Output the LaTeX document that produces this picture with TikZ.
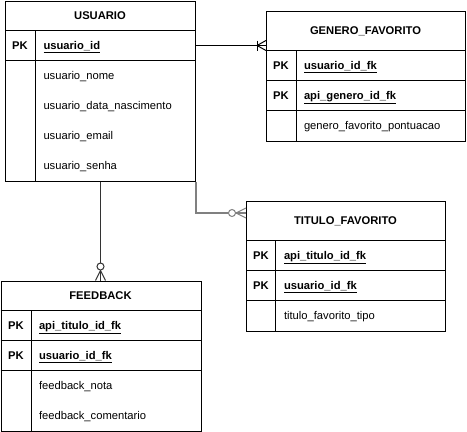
\documentclass[tikz,border=0pt]{standalone}
\usepackage{fontspec}
\setmainfont{Liberation Sans}
\usetikzlibrary{calc}
\definecolor{cinzaclaro}{HTML}{808080}
\definecolor{cinzaescuro}{HTML}{333333}
\tikzset{
  tabela/.style={draw, fill=white, anchor=north west, inner sep=0pt},
  texto/.style={font=\fontsize{11.2}{13}\selectfont, inner sep=0pt, text height=10.1pt, text depth=2.4pt},
  cabecalho/.style={texto, font=\fontsize{11.2}{13}\selectfont\bfseries},
  pk/.style={cabecalho},
  atributo/.style={texto, anchor=west},
  chave/.style={cabecalho, anchor=west},
}

\begin{document}
\begin{tikzpicture}[x=1pt,y=-1pt,line width=1pt]
                \useasboundingbox (0,0) rectangle (467,432);

                % USUARIO
                \node[tabela, minimum width=190pt, minimum height=180pt] (usuario) at (5,0.5) {};
                \draw (5,30.5) -- (195,30.5) (5,60.5) -- (195,60.5) (35,30.5) -- (35,180.5);
                \node[cabecalho] (usuario-cab) at (100,15.5) {USUARIO};
                \node[pk] (usuario-pk) at (20,45.5) {PK};
                \node[chave] (usuario-id) at (43,45.5) {\underline{usuario\_id}};
                \foreach \a [count=\i] in {usuario\_nome,usuario\_data\_nascimento,usuario\_email,usuario\_senha}
                \node[atributo] (usuario-a\i) at (43,{45.5+30*\i}) {\a};

                % GENERO_FAVORITO
                \node[tabela, minimum width=199pt, minimum height=130pt] (genero) at (266,10.5) {};
                \draw (266,50.5) -- (465,50.5) (266,80.5) -- (465,80.5) (266,110.5) -- (465,110.5) (296,50.5) -- (296,140.5);
                \node[cabecalho] (genero-cab) at (365.5,30.5) {GENERO\_FAVORITO};
                \node[pk] (genero-pk1) at (281,65.5) {PK};
                \node[pk] (genero-pk2) at (281,95.5) {PK};
                \node[chave] (genero-k1) at (303.5,65.5) {\underline{usuario\_id\_fk}};
                \node[chave] (genero-k2) at (303.5,95.5) {\underline{api\_genero\_id\_fk}};
                \node[atributo] (genero-a1) at (303.5,125.5) {genero\_favorito\_pontuacao};

                % TITULO_FAVORITO
                \node[tabela, minimum width=199pt, minimum height=130pt] (titulo) at (246,200.5) {};
                \draw (246,240.5) -- (445,240.5) (246,270.5) -- (445,270.5) (246,300.5) -- (445,300.5) (275.5,240.5) -- (275.5,330.5);
                \node[cabecalho] (titulo-cab) at (345.5,220.5) {TITULO\_FAVORITO};
                \node[pk] (titulo-pk1) at (261,255.5) {PK};
                \node[pk] (titulo-pk2) at (261,285.5) {PK};
                \node[chave] (titulo-k1) at (283.5,255.5) {\underline{api\_titulo\_id\_fk}};
                \node[chave] (titulo-k2) at (283.5,285.5) {\underline{usuario\_id\_fk}};
                \node[atributo] (titulo-a1) at (283.5,315.5) {titulo\_favorito\_tipo};

                % FEEDBACK
                \node[tabela, minimum width=200pt, minimum height=150pt] (feedback) at (0.5,280.5) {};
                \draw (0.5,310.5) -- (200.5,310.5) (0.5,340.5) -- (200.5,340.5) (0.5,370.5) -- (200.5,370.5) (31,310.5) -- (31,430.5);
                \node[cabecalho] (feedback-cab) at (100.5,295.5) {FEEDBACK};
                \node[pk] (feedback-pk1) at (16,325.5) {PK};
                \node[pk] (feedback-pk2) at (16,355.5) {PK};
                \node[chave] (feedback-k1) at (38.5,325.5) {\underline{api\_titulo\_id\_fk}};
                \node[chave] (feedback-k2) at (38.5,355.5) {\underline{usuario\_id\_fk}};
                \foreach \a [count=\i] in {feedback\_nota,feedback\_comentario}
                \node[atributo] (feedback-a\i) at (38.5,{355.5+30*\i}) {\a};

                % relacionamentos
                \coordinate (g-fim) at (genero.west |- usuario-pk);
                \draw (usuario.east |- usuario-pk) -- (g-fim);
                \draw ($(g-fim)+(-9,-5)$) -- ++(0,10);
                \draw ($(g-fim)+(0,-5)$) -- ($(g-fim)+(-9,0)$) -- ($(g-fim)+(0,5)$);

                \coordinate (t-fim) at ($(titulo.north west)+(0,12.5)$);
                \draw[cinzaclaro,line width=1.5pt] (usuario.south east) |- (t-fim);
                \draw[cinzaclaro] ($(t-fim)+(0,-5)$) -- ($(t-fim)+(-10,0)$) -- ($(t-fim)+(0,5)$);
                \draw[cinzaclaro,fill=white] ($(t-fim)+(-14,0)$) circle (3.5pt);

                \coordinate (f-fim) at (usuario.south |- feedback.north);
                \draw[cinzaescuro,line width=1.5pt] (usuario.south) -- (f-fim);
                \draw[cinzaescuro] ($(f-fim)+(-5,0)$) -- ($(f-fim)+(0,-10)$) -- ($(f-fim)+(5,0)$);
                \draw[cinzaescuro,fill=white] ($(f-fim)+(0,-14)$) circle (3.5pt);
            \end{tikzpicture}
\end{document}
